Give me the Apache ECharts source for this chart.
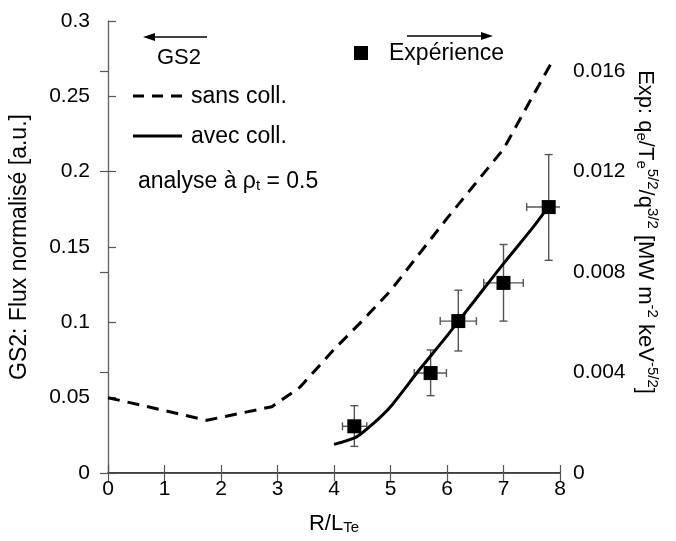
<!DOCTYPE html>
<html>
<head>
<meta charset="utf-8">
<script src="https://cdn.jsdelivr.net/npm/echarts@6/dist/echarts.min.js"></script>
<style>
  html, body { margin: 0; padding: 0; background: #fff; }
  #chart { width: 676px; height: 541px; }
</style>
</head>
<body>
<div id="chart"></div>
<script>
// GS2 flux without collisions (dashed), left axis
const gs2SansX = [0, 1.75, 2.9, 3.4, 4.0, 4.5, 5.0, 5.5, 6.0, 6.5, 7.0, 7.5, 7.83];
const gs2SansY = [0.050, 0.035, 0.044, 0.057, 0.082, 0.101, 0.121, 0.145, 0.169, 0.192, 0.215, 0.249, 0.271];

// GS2 flux with collisions (solid), left axis
const gs2AvecX = [4.0, 4.4, 4.7, 5.0, 5.5, 6.0, 6.5, 7.0, 7.5, 7.8];
const gs2AvecY = [0.019, 0.024, 0.033, 0.044, 0.068, 0.091, 0.115, 0.139, 0.162, 0.177];

// Experimental points with error bars, right axis
const expX   = [4.36, 5.71, 6.20, 7.00, 7.80];
const expY   = [0.00186, 0.00398, 0.00605, 0.00757, 0.01059];
const expXLo = [4.15, 5.42, 5.88, 6.65, 7.41];
const expXHi = [4.58, 5.99, 6.52, 7.35, 8.19];
const expYLo = [0.00106, 0.00308, 0.00486, 0.00605, 0.00847];
const expYHi = [0.00268, 0.00490, 0.00728, 0.00910, 0.01268];

// Axis ranges
const xRange = [0, 8, 1];
const yLeftRange = [0, 0.3, 0.05];
const yRightRange = [0, 0.018, 0.004];

const FONT = 'Liberation Sans';

const zip = (xs, ys) => xs.map((x, i) => [x, ys[i]]);
const expData = expX.map((x, i) => [x, expY[i], expXLo[i], expXHi[i], expYLo[i], expYHi[i]]);

const chart = echarts.init(document.getElementById('chart'), null, { renderer: 'canvas' });

const tickStyle = { inside: true, length: 8, lineStyle: { color: '#555', width: 1.2 } };
const labelStyle = { color: '#000', fontFamily: FONT, fontSize: 21 };

// rich-text styles for main text, subscripts and superscripts
function richSet(size, color) {
  const key = color ? 'color' : 'fill';
  const mk = (o) => Object.assign({ fontFamily: FONT, [key]: '#000' }, o);
  return {
    m: mk({ fontSize: size, lineHeight: 26, verticalAlign: 'bottom' }),
    s: mk({ fontSize: 15, lineHeight: 14, verticalAlign: 'bottom' }),
    p: mk({ fontSize: 15, lineHeight: 14, verticalAlign: 'top' })
  };
}

function errorBars(params, api) {
  const x = api.value(0), y = api.value(1);
  const xl = api.value(2), xh = api.value(3), yl = api.value(4), yh = api.value(5);
  const pLo = api.coord([x, yl]);
  const pHi = api.coord([x, yh]);
  const pL = api.coord([xl, y]);
  const pR = api.coord([xh, y]);
  const cap = 4;
  const st = { stroke: '#555', lineWidth: 1.4 };
  const seg = (x1, y1, x2, y2) => ({ type: 'line', shape: { x1, y1, x2, y2 }, style: st });
  return {
    type: 'group',
    children: [
      seg(pLo[0], pLo[1], pHi[0], pHi[1]),
      seg(pLo[0] - cap, pLo[1], pLo[0] + cap, pLo[1]),
      seg(pHi[0] - cap, pHi[1], pHi[0] + cap, pHi[1]),
      seg(pL[0], pL[1], pR[0], pR[1]),
      seg(pL[0], pL[1] - cap, pL[0], pL[1] + cap),
      seg(pR[0], pR[1] - cap, pR[0], pR[1] + cap)
    ]
  };
}

function arrow(x1, x2, y) {
  const dir = Math.sign(x2 - x1);
  const head = 12;
  return [
    { type: 'line', shape: { x1: x1, y1: y, x2: x2 - dir * head, y2: y },
      style: { stroke: '#000', lineWidth: 1.5 } },
    { type: 'polygon', shape: { points: [[x2, y], [x2 - dir * head, y - 4], [x2 - dir * head, y + 4]] },
      style: { fill: '#000' } }
  ];
}

const textEl = (text, x, y, size, extra) => ({
  type: 'text', x: x, y: y,
  style: Object.assign({ text: text, fill: '#000', font: size + 'px "' + FONT + '"',
    align: 'left', verticalAlign: 'middle' }, extra || {})
});

const option = {
  backgroundColor: '#fff',
  animation: false,
  grid: { left: 108, right: 116, top: 21, bottom: 68, containLabel: false },
  xAxis: [
    {
      type: 'value', position: 'bottom',
      min: xRange[0], max: xRange[1], interval: xRange[2],
      axisLine: { lineStyle: { color: '#000', width: 1.6 } },
      axisTick: tickStyle,
      axisLabel: Object.assign({ margin: 6 }, labelStyle),
      splitLine: { show: false },
      name: '{m|R/L}{s|Te}',
      nameLocation: 'middle', nameGap: 36,
      nameTextStyle: { rich: richSet(22, true) }
    },
    {
      type: 'value', position: 'top',
      min: xRange[0], max: xRange[1], interval: xRange[2],
      axisLine: { lineStyle: { color: '#555', width: 1.2 } },
      axisTick: tickStyle,
      axisLabel: { show: false },
      splitLine: { show: false }
    }
  ],
  yAxis: [
    {
      type: 'value', position: 'left',
      min: yLeftRange[0], max: yLeftRange[1], interval: yLeftRange[2],
      axisLine: { show: true, lineStyle: { color: '#666', width: 1.2 } },
      axisTick: tickStyle,
      axisLabel: Object.assign({ margin: 18 }, labelStyle),
      splitLine: { show: false },
      name: 'GS2: Flux normalisé [a.u.]',
      nameLocation: 'middle', nameGap: 77, nameRotate: 90,
      nameTextStyle: { fontFamily: FONT, fontSize: 23, color: '#000' }
    },
    {
      type: 'value', position: 'right',
      min: yRightRange[0], max: yRightRange[1], interval: yRightRange[2],
      axisLine: { show: true, lineStyle: { color: '#666', width: 1.2 } },
      axisTick: tickStyle,
      axisLabel: Object.assign({ margin: 13, showMaxLabel: false }, labelStyle),
      splitLine: { show: false }
    }
  ],
  series: [
    {
      name: 'sans coll.', type: 'line', xAxisIndex: 0, yAxisIndex: 0,
      data: zip(gs2SansX, gs2SansY), showSymbol: false, symbol: 'none',
      lineStyle: { color: '#000', width: 3, type: [12, 8] }, z: 3
    },
    {
      name: 'avec coll.', type: 'line', xAxisIndex: 0, yAxisIndex: 0,
      data: zip(gs2AvecX, gs2AvecY), showSymbol: false, symbol: 'none', smooth: 0.25,
      lineStyle: { color: '#000', width: 3 }, z: 3
    },
    {
      name: 'erreurs', type: 'custom', xAxisIndex: 0, yAxisIndex: 1,
      data: expData, encode: { x: 0, y: 1 }, renderItem: errorBars, clip: true, z: 2
    },
    {
      name: 'Expérience', type: 'scatter', xAxisIndex: 0, yAxisIndex: 1,
      data: zip(expX, expY), symbol: 'rect', symbolSize: 14,
      itemStyle: { color: '#000', opacity: 1 }, z: 4
    }
  ],
  graphic: [
    // GS2 direction arrow and legend block
    ...arrow(207, 143, 37),
    textEl('GS2', 157, 58, 22),
    { type: 'line', shape: { x1: 133, y1: 96, x2: 182, y2: 96 },
      style: { stroke: '#000', lineWidth: 3, lineDash: [11, 8] } },
    textEl('sans coll.', 191, 97, 23),
    { type: 'line', shape: { x1: 133, y1: 136, x2: 182, y2: 136 },
      style: { stroke: '#000', lineWidth: 3 } },
    textEl('avec coll.', 191, 137, 23),
    textEl('{m|analyse à ρ}{s|t}{m| = 0.5}', 138, 180, 23, { rich: richSet(23, false) }),
    // Experiment direction arrow and legend
    ...arrow(407, 493, 36),
    { type: 'rect', shape: { x: 354, y: 46, width: 14, height: 14 }, style: { fill: '#000' } },
    textEl('Expérience', 389, 54, 23),
    // Right axis title
    {
      type: 'text', x: 647, y: 232, rotation: -Math.PI / 2,
      style: {
        text: '{m|Exp: q}{s|e}{m|/T}{s|e}{p|5/2}{m|/q}{p|3/2}{m| [MW m}{p|-2}{m| keV}{p|-5/2}{m|]}',
        align: 'center', verticalAlign: 'middle',
        rich: richSet(22, false)
      }
    }
  ]
};

chart.setOption(option);
</script>
</body>
</html>
